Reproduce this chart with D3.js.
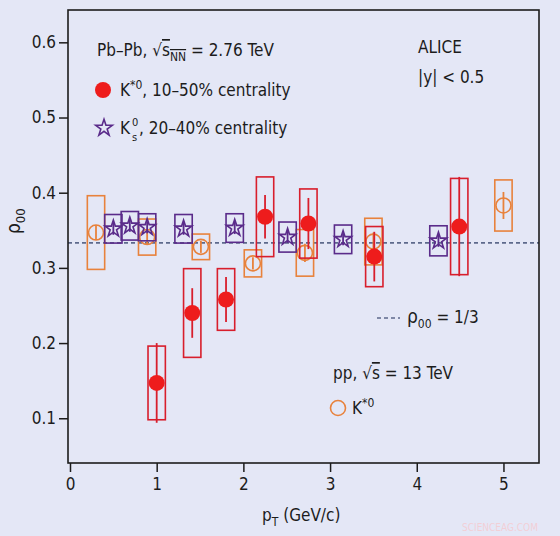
<!DOCTYPE html>
<html>
<head>
<meta charset="utf-8">
<script src="https://cdn.jsdelivr.net/npm/d3@7"></script>
<style>
body { margin: 0; background: #e4e7f6; }
text { font-family: "Liberation Sans Narrow", "DejaVu Sans Condensed", sans-serif; fill: #1c1c1c; }
</style>
</head>
<body>
<div id="chart"></div>
<script>
// K*0, Pb-Pb 10-50% centrality
var kstarPt   = [1.0, 1.41, 1.80, 2.25, 2.75, 3.51, 4.49];
var kstarRho  = [0.147, 0.240, 0.258, 0.368, 0.359, 0.315, 0.355];
var kstarStat = [0.053, 0.033, 0.030, 0.029, 0.034, 0.033, 0.066];
var kstarSys  = [0.049, 0.059, 0.041, 0.053, 0.046, 0.040, 0.064];

// K0s, Pb-Pb 20-40% centrality
var k0sPt   = [0.50, 0.69, 0.89, 1.31, 1.90, 2.51, 3.15, 4.25];
var k0sRho  = [0.352, 0.356, 0.354, 0.352, 0.353, 0.341, 0.338, 0.336];
var k0sStat = [0.008, 0.008, 0.008, 0.008, 0.008, 0.008, 0.008, 0.008];
var k0sSys  = [0.019, 0.019, 0.018, 0.019, 0.019, 0.020, 0.019, 0.020];

// K*0, pp 13 TeV
var ppPt   = [0.30, 0.89, 1.51, 2.11, 2.71, 3.50, 5.0];
var ppRho  = [0.347, 0.341, 0.328, 0.306, 0.320, 0.335, 0.383];
var ppStat = [0.010, 0.010, 0.008, 0.008, 0.012, 0.012, 0.018];
var ppSys  = [0.049, 0.024, 0.017, 0.018, 0.031, 0.031, 0.034];

var xTicks = [0, 1, 2, 3, 4, 5];
var yTicks = [0.1, 0.2, 0.3, 0.4, 0.5, 0.6];

var red = "#ee1c1c", redBox = "#d81e2c", purple = "#5a2b8a", orange = "#e8823c";
var boxHalf = 0.1;

var margin = {top: 10, right: 21, bottom: 73, left: 68};
var width = 560 - margin.left - margin.right,
    height = 536 - margin.top - margin.bottom;

var svg = d3.select("#chart").append("svg")
    .attr("width", width + margin.left + margin.right)
    .attr("height", height + margin.top + margin.bottom)
    .append("g")
    .attr("transform", "translate(" + margin.left + "," + margin.top + ")");

var x = d3.scaleLinear().domain([-0.023, 5.41]).range([0, width]);
var y = d3.scaleLinear().domain([0.0405, 0.643]).range([height, 0]);

function series(pt, rho, stat, sys) {
    return pt.map(function(p, i) {
        return {pt: p, rho: rho[i], stat: stat[i], sys: sys[i]};
    });
}

// rho00 = 1/3 line
svg.append("line")
    .attr("x1", 0).attr("x2", width)
    .attr("y1", y(1 / 3)).attr("y2", y(1 / 3))
    .attr("stroke", "#5d6a8c")
    .attr("stroke-width", 1.6)
    .attr("stroke-dasharray", "4,3");

function drawBoxes(data, color) {
    svg.append("g").selectAll("rect")
        .data(data)
        .enter()
        .append("rect")
        .attr("x", function(d) { return x(d.pt - boxHalf); })
        .attr("width", function(d) { return x(d.pt + boxHalf) - x(d.pt - boxHalf); })
        .attr("y", function(d) { return y(d.rho + d.sys); })
        .attr("height", function(d) { return y(d.rho - d.sys) - y(d.rho + d.sys); })
        .attr("fill", "none")
        .attr("stroke", color)
        .attr("stroke-width", 1.6);
}

function drawErrors(data, color) {
    svg.append("g").selectAll("line")
        .data(data)
        .enter()
        .append("line")
        .attr("x1", function(d) { return x(d.pt); })
        .attr("x2", function(d) { return x(d.pt); })
        .attr("y1", function(d) { return y(d.rho + d.stat); })
        .attr("y2", function(d) { return y(d.rho - d.stat); })
        .attr("stroke", color)
        .attr("stroke-width", 1.8);
}

var pp = series(ppPt, ppRho, ppStat, ppSys),
    k0s = series(k0sPt, k0sRho, k0sStat, k0sSys),
    kstar = series(kstarPt, kstarRho, kstarStat, kstarSys);

// pp first, then K0s, K*0 on top
drawBoxes(pp, orange);
drawErrors(pp, orange);
svg.append("g").selectAll("circle")
    .data(pp)
    .enter()
    .append("circle")
    .attr("cx", function(d) { return x(d.pt); })
    .attr("cy", function(d) { return y(d.rho); })
    .attr("r", 7.5)
    .attr("fill", "none")
    .attr("stroke", orange)
    .attr("stroke-width", 1.6);

drawBoxes(k0s, purple);
drawErrors(k0s, purple);
var star = d3.symbol().type(d3.symbolStar).size(85);
svg.append("g").selectAll("path")
    .data(k0s)
    .enter()
    .append("path")
    .attr("d", star)
    .attr("transform", function(d) { return "translate(" + x(d.pt) + "," + y(d.rho) + ")"; })
    .attr("fill", "none")
    .attr("stroke", purple)
    .attr("stroke-width", 1.6);

drawBoxes(kstar, redBox);
drawErrors(kstar, redBox);
svg.append("g").selectAll("circle")
    .data(kstar)
    .enter()
    .append("circle")
    .attr("cx", function(d) { return x(d.pt); })
    .attr("cy", function(d) { return y(d.rho); })
    .attr("r", 8)
    .attr("fill", red);

// frame + axes
svg.append("rect")
    .attr("width", width).attr("height", height)
    .attr("fill", "none").attr("stroke", "#1c1c1c").attr("stroke-width", 1.6);

var xAxis = d3.axisBottom(x).tickValues(xTicks).tickSize(9).tickSizeOuter(0).tickPadding(6)
    .tickFormat(d3.format("d"));
var yAxis = d3.axisLeft(y).tickValues(yTicks).tickSize(9).tickSizeOuter(0).tickPadding(3)
    .tickFormat(d3.format(".1f"));

svg.append("g")
    .attr("class", "x axis")
    .attr("transform", "translate(0," + height + ")")
    .call(xAxis);
svg.append("g")
    .attr("class", "y axis")
    .call(yAxis);

svg.selectAll(".axis path").remove();
svg.selectAll(".axis line").attr("stroke", "#1c1c1c").attr("stroke-width", 1.5);
svg.selectAll(".axis text").style("font-size", "17px").attr("fill", "#1c1c1c")
    .style("font-family", "'Liberation Sans Narrow', 'DejaVu Sans Condensed', sans-serif");

// axis titles
var xt = svg.append("text")
    .attr("x", 194).attr("y", height + 58)
    .style("font-size", "17px");
xt.append("tspan").text("p");
xt.append("tspan").attr("dy", 5).style("font-size", "12px").text("T");
xt.append("tspan").attr("dy", -5).text(" (GeV/c)");

var yt = svg.append("text")
    .attr("transform", "translate(-48," + (y(0.345)) + ") rotate(-90)")
    .style("font-size", "19px");
yt.append("tspan").text("ρ");
yt.append("tspan").attr("dy", 5).style("font-size", "13px").text("00");

// legend, Pb-Pb
var t1 = svg.append("text").attr("x", 29).attr("y", 46).style("font-size", "17px");
t1.append("tspan").text("Pb–Pb, √");
t1.append("tspan").style("text-decoration", "overline").text("s");
t1.append("tspan").attr("dy", 5).style("font-size", "12px").style("text-decoration", "overline").text("NN");
t1.append("tspan").attr("dy", -5).text(" = 2.76 TeV");

svg.append("circle").attr("cx", 35).attr("cy", 80).attr("r", 8).attr("fill", red);
var t2 = svg.append("text").attr("x", 52).attr("y", 86).style("font-size", "17px");
t2.append("tspan").text("K");
t2.append("tspan").attr("dy", -7).style("font-size", "12px").text("*0");
t2.append("tspan").attr("dy", 7).text(", 10–50% centrality");

svg.append("path").attr("d", star)
    .attr("transform", "translate(36,118)")
    .attr("fill", "none").attr("stroke", purple).attr("stroke-width", 1.6);
// K0s label: stacked super/subscript drawn as separate texts
svg.append("text").attr("x", 52).attr("y", 124).style("font-size", "17px").text("K");
svg.append("text").attr("x", 64).attr("y", 116).style("font-size", "11px").text("0");
svg.append("text").attr("x", 64).attr("y", 131).style("font-size", "11px").text("s");
svg.append("text").attr("x", 71).attr("y", 124).style("font-size", "17px").text(", 20–40% centrality");

svg.append("text").attr("x", 350).attr("y", 43).style("font-size", "17px").text("ALICE");
svg.append("text").attr("x", 350).attr("y", 73).style("font-size", "17px").text("|y|  < 0.5");

// legend, rho00 = 1/3
svg.append("line")
    .attr("x1", 309).attr("x2", 332).attr("y1", 308).attr("y2", 308)
    .attr("stroke", "#5d6a8c").attr("stroke-width", 1.4).attr("stroke-dasharray", "4,3");
var t4 = svg.append("text").attr("x", 339).attr("y", 313).style("font-size", "17px");
t4.append("tspan").style("font-size", "19px").text("ρ");
t4.append("tspan").attr("dy", 5).style("font-size", "12px").text("00");
t4.append("tspan").attr("dy", -5).text(" = 1/3");

// legend, pp
var t5 = svg.append("text").attr("x", 265).attr("y", 369).style("font-size", "17px");
t5.append("tspan").text("pp, √");
t5.append("tspan").style("text-decoration", "overline").text("s");
t5.append("tspan").text(" = 13 TeV");

svg.append("circle").attr("cx", 270).attr("cy", 398).attr("r", 7.5)
    .attr("fill", "none").attr("stroke", orange).attr("stroke-width", 1.6);
var t6 = svg.append("text").attr("x", 284).attr("y", 404).style("font-size", "17px");
t6.append("tspan").text("K");
t6.append("tspan").attr("dy", -7).style("font-size", "12px").text("*0");

svg.append("text").attr("x", 394).attr("y", 521).style("font-size", "10px")
    .style("fill", "#f2cfd6").text("SCIENCEAG.COM");
</script>
</body>
</html>
